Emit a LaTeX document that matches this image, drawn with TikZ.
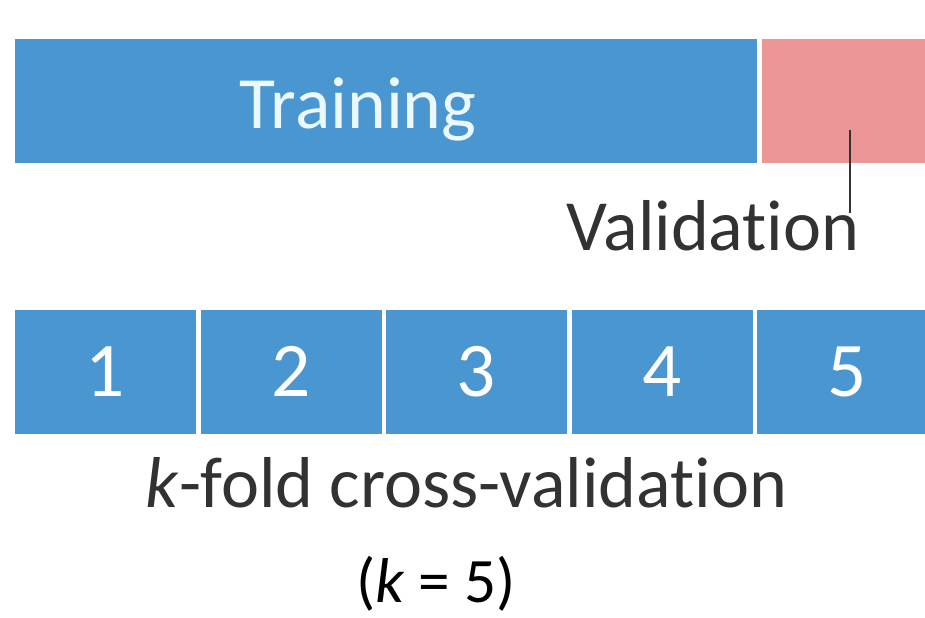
\documentclass[tikz,border=0pt]{standalone}
\usepackage{fontspec}
\setmainfont{Carlito}[Ligatures=NoCommon]
\definecolor{foldblue}{RGB}{74,150,208}
\definecolor{valpink}{RGB}{235,149,150}
\definecolor{labelgray}{RGB}{50,50,50}
\begin{document}
\begin{tikzpicture}[
    bar/.style={fill=foldblue, minimum height=1.24cm, inner sep=0pt, outer sep=0pt},
    barlabel/.style={anchor=base, text=white, font=\fontsize{22}{24}\selectfont},
    caption/.style={anchor=base, text=labelgray, font=\fontsize{20.5}{24}\selectfont}
]
    \useasboundingbox (0,0) rectangle (9.25,6.17);
    \clip (0,0) rectangle (9.25,6.17);
    % Training / validation split
    \node[bar, minimum width=7.42cm] (train) at (3.86, 5.16) {};
    \node[bar, fill=valpink, minimum width=1.81cm] (valid) at (8.525, 5.16) {};
    \node[barlabel, text=white!92!cyan, font=\fontsize{21}{24}\selectfont] (trainlbl) at (3.58, 4.89) {Training};
    \node[caption] (validlbl) at (7.13, 3.67) {Validation};
    \coordinate (validtip) at (8.50, 4.87);
    \coordinate (validend) at (8.50, 4.04);
    \draw[labelgray, line width=0.6pt] (validtip) -- (validend);
    % Folds
    \foreach \i in {1,...,5} {
        \node[bar, minimum width=1.81cm] (fold\i) at ({1.055 + (\i-1)*1.855}, 2.45) {};
        \node[barlabel] (num\i) at ([yshift=-0.24cm]fold\i.center) {\i};
    }
    \node[caption] (kfold) at (4.665, 1.10) {\textit{k}-fold cross-validation};
    \node[caption, text=black, font=\fontsize{18}{22}\selectfont] (kval) at (4.36, 0.15) {(\textit{k} = 5)};
\end{tikzpicture}
\end{document}
